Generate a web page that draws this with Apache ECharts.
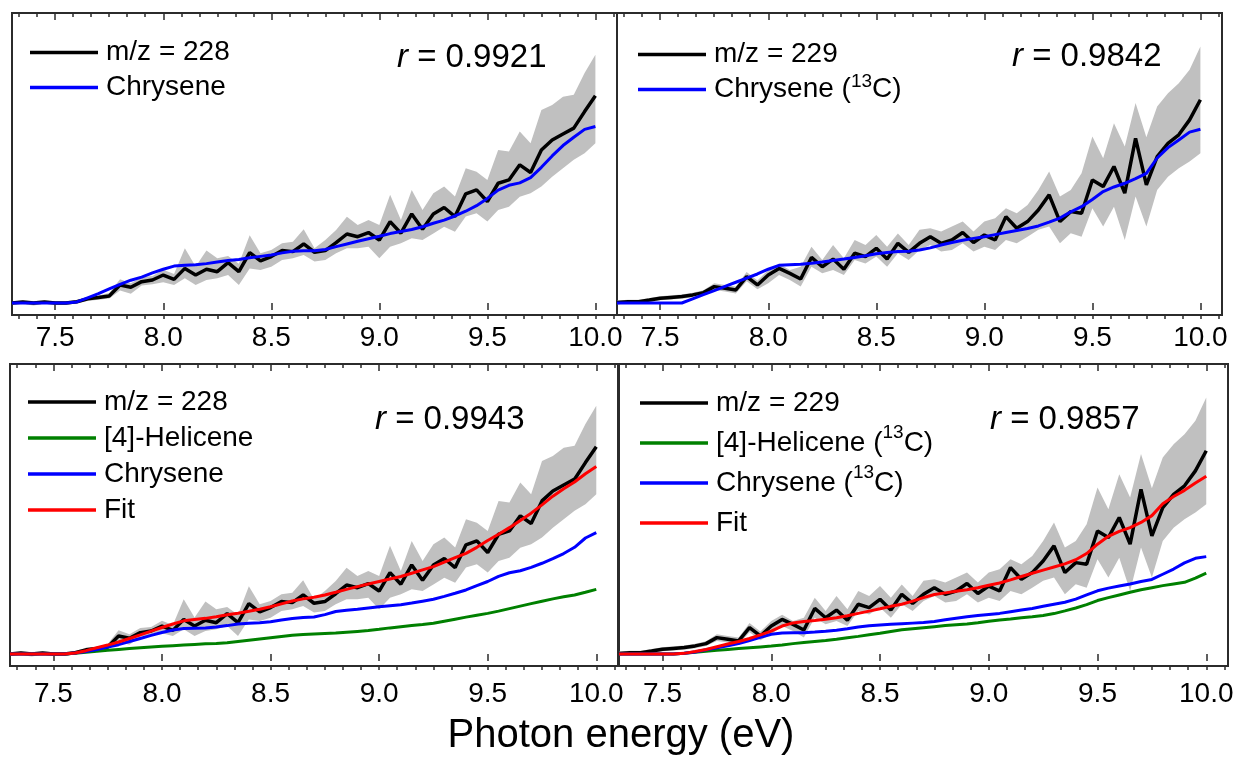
<!DOCTYPE html>
<html>
<head>
<meta charset="utf-8">
<script src="https://cdn.jsdelivr.net/npm/echarts@6/dist/echarts.min.js"></script>
<style>
  html, body { margin: 0; padding: 0; background: #fff; }
  #chart { width: 1242px; height: 761px; }
</style>
</head>
<body>
<div id="chart"></div>
<script>
// ---------------- data (photon energy in eV, normalized ion signal) ----------------
const energy = [7.30,7.35,7.40,7.45,7.50,7.55,7.60,7.65,7.70,7.75,7.80,7.85,7.90,7.95,
  8.00,8.05,8.10,8.15,8.20,8.25,8.30,8.35,8.40,8.45,8.50,8.55,8.60,8.65,8.70,8.75,8.80,8.85,8.90,8.95,
  9.00,9.05,9.10,9.15,9.20,9.25,9.30,9.35,9.40,9.45,9.50,9.55,9.60,9.65,9.70,9.75,9.80,9.85,9.90,9.95,
  10.00];

// m/z = 228 measured signal and its error band
const mz228 = [0.000,0.005,0.000,0.005,0.000,0.000,0.006,0.020,0.026,0.034,0.087,0.076,0.103,0.111,
  0.135,0.114,0.167,0.135,0.163,0.151,0.195,0.151,0.243,0.203,0.224,0.253,0.248,0.285,0.245,0.253,0.291,0.333,0.320,0.340,
  0.304,0.393,0.337,0.430,0.356,0.430,0.461,0.417,0.527,0.546,0.490,0.578,0.594,0.667,0.630,0.739,0.787,0.816,0.844,0.924,
  1.000];
const mz228Upper = [0.008,0.012,0.010,0.012,0.008,0.008,0.014,0.030,0.036,0.048,0.115,0.095,0.125,0.130,
  0.160,0.140,0.264,0.176,0.253,0.216,0.227,0.190,0.327,0.240,0.256,0.288,0.296,0.356,0.264,0.304,0.352,0.416,0.377,0.401,
  0.377,0.522,0.401,0.546,0.449,0.530,0.562,0.514,0.650,0.634,0.594,0.739,0.731,0.828,0.771,0.932,0.956,0.996,1.005,1.110,
  1.198];
const mz228Lower = [-0.008,-0.005,-0.012,-0.004,-0.008,-0.008,-0.002,0.010,0.016,0.022,0.060,0.045,0.085,0.090,
  0.100,0.087,0.119,0.087,0.111,0.119,0.135,0.087,0.167,0.159,0.175,0.208,0.216,0.232,0.200,0.208,0.240,0.264,0.264,0.272,
  0.216,0.272,0.288,0.312,0.304,0.336,0.368,0.344,0.417,0.433,0.393,0.449,0.465,0.513,0.530,0.562,0.610,0.650,0.691,0.723,
  0.771];

// m/z = 229 measured signal and its error band
const mz229 = [0.002,0.006,0.006,0.014,0.023,0.027,0.031,0.039,0.050,0.079,0.071,0.063,0.127,0.087,
  0.135,0.167,0.143,0.116,0.220,0.175,0.212,0.163,0.240,0.224,0.264,0.212,0.288,0.244,0.288,0.320,0.288,0.304,0.340,0.292,
  0.328,0.304,0.417,0.361,0.393,0.449,0.522,0.393,0.441,0.433,0.594,0.562,0.659,0.530,0.795,0.570,0.707,0.771,0.812,0.884,
  0.981];
const mz229Upper = [0.012,0.016,0.016,0.024,0.033,0.037,0.041,0.050,0.062,0.095,0.087,0.080,0.150,0.108,
  0.159,0.190,0.159,0.175,0.272,0.208,0.280,0.216,0.304,0.280,0.328,0.272,0.336,0.280,0.353,0.361,0.345,0.369,0.393,0.345,
  0.393,0.409,0.457,0.433,0.473,0.546,0.635,0.514,0.546,0.626,0.804,0.699,0.868,0.755,0.965,0.800,0.948,1.013,1.061,1.126,
  1.238];
const mz229Lower = [-0.006,-0.004,-0.004,0.004,0.013,0.017,0.021,0.028,0.038,0.063,0.055,0.046,0.105,0.066,
  0.095,0.135,0.111,0.079,0.175,0.143,0.159,0.135,0.208,0.191,0.224,0.175,0.240,0.208,0.256,0.280,0.248,0.256,0.288,0.248,
  0.272,0.256,0.304,0.288,0.320,0.353,0.369,0.288,0.337,0.320,0.457,0.369,0.465,0.304,0.514,0.369,0.546,0.610,0.650,0.683,
  0.723];

// single-component fits (top panels)
const chryseneTop = [0,0,0,0,0,0,0.005,0.025,0.045,0.068,0.090,0.110,0.125,0.145,
  0.163,0.178,0.182,0.185,0.190,0.198,0.205,0.210,0.218,0.225,0.232,0.242,0.250,0.252,0.252,0.258,0.272,0.285,0.298,0.310,
  0.322,0.335,0.345,0.355,0.368,0.385,0.400,0.420,0.443,0.470,0.505,0.545,0.568,0.580,0.605,0.655,0.710,0.760,0.800,0.838,
  0.852];
const chrysene13CTop = [0,0,0,0,0,0,0,0.020,0.040,0.060,0.080,0.100,0.120,0.140,
  0.163,0.182,0.185,0.187,0.192,0.198,0.205,0.212,0.220,0.228,0.238,0.244,0.248,0.250,0.256,0.266,0.280,0.292,0.303,0.312,
  0.320,0.330,0.340,0.350,0.360,0.372,0.390,0.410,0.440,0.465,0.500,0.538,0.560,0.578,0.600,0.626,0.700,0.750,0.787,0.825,
  0.839];

// two-component fits (bottom-left, m/z 228)
const helicene228 = [0,0,0,0,0,0,0.003,0.008,0.013,0.018,0.022,0.026,0.030,0.034,
  0.037,0.040,0.043,0.046,0.049,0.051,0.054,0.060,0.066,0.072,0.078,0.084,0.090,0.094,0.097,0.099,0.101,0.105,0.109,0.113,
  0.119,0.126,0.132,0.137,0.142,0.148,0.158,0.168,0.178,0.187,0.196,0.207,0.219,0.231,0.243,0.255,0.266,0.276,0.285,0.298,
  0.312];
const chrysene228 = [0,0,0,0,0,0,0.005,0.012,0.022,0.033,0.045,0.060,0.075,0.090,
  0.104,0.116,0.123,0.124,0.125,0.130,0.137,0.145,0.148,0.151,0.156,0.164,0.171,0.176,0.179,0.190,0.205,0.211,0.216,0.222,
  0.228,0.233,0.238,0.246,0.255,0.264,0.278,0.293,0.309,0.330,0.350,0.375,0.392,0.402,0.418,0.438,0.460,0.485,0.515,0.560,
  0.586];
const fit228 = [0,0,0,0,0,0,0.005,0.016,0.030,0.043,0.058,0.075,0.092,0.110,
  0.128,0.145,0.160,0.166,0.172,0.180,0.189,0.197,0.206,0.216,0.228,0.242,0.256,0.266,0.274,0.285,0.298,0.312,0.325,0.338,
  0.350,0.362,0.374,0.390,0.406,0.422,0.443,0.465,0.486,0.515,0.548,0.578,0.610,0.645,0.680,0.720,0.762,0.798,0.830,0.870,
  0.905];

// two-component fits (bottom-right, m/z 229)
const helicene229 = [0,0,0,0,0,0,0.003,0.008,0.013,0.018,0.022,0.026,0.030,0.034,
  0.038,0.043,0.050,0.055,0.060,0.065,0.071,0.078,0.085,0.093,0.100,0.109,0.117,0.122,0.127,0.132,0.137,0.141,0.145,0.151,
  0.158,0.164,0.169,0.175,0.180,0.186,0.195,0.208,0.222,0.238,0.258,0.272,0.285,0.298,0.310,0.320,0.330,0.338,0.346,0.366,
  0.390];
const chrysene229 = [0,0,0,0,0,0,0.004,0.010,0.020,0.030,0.040,0.050,0.065,0.080,
  0.095,0.101,0.102,0.103,0.106,0.110,0.115,0.122,0.130,0.136,0.140,0.143,0.146,0.149,0.152,0.157,0.165,0.173,0.180,0.186,
  0.191,0.196,0.204,0.212,0.220,0.230,0.240,0.250,0.265,0.285,0.305,0.318,0.328,0.338,0.350,0.360,0.385,0.410,0.440,0.462,
  0.470];
const fit229 = [0,0,0,0,0,0,0.003,0.012,0.022,0.035,0.048,0.060,0.075,0.092,
  0.110,0.135,0.150,0.157,0.162,0.168,0.175,0.185,0.196,0.207,0.218,0.230,0.240,0.255,0.272,0.287,0.295,0.303,0.310,0.320,
  0.332,0.343,0.358,0.374,0.390,0.405,0.420,0.435,0.455,0.485,0.530,0.568,0.592,0.610,0.635,0.668,0.725,0.760,0.790,0.825,
  0.858];

// axis tick labels
const xTickLabels = [7.5, 8.0, 8.5, 9.0, 9.5, 10.0];
const xRange = [7.3, 10.1];
const yRange = [-0.058, 1.40];
const rValues = ['0.9921', '0.9842', '0.9943', '0.9857'];
const xTitle = 'Photon energy (eV)';

// ---------------- chart ----------------
const FONT = "'Liberation Sans', Arial, Helvetica, sans-serif";
const AXIS_COLOR = '#2b2b2b';
const BAND_COLOR = '#c0c0c0';
const C = { black: '#000000', blue: '#0000ff', green: '#008000', red: '#ff0000' };
const SUP = '\u00B9\u00B3';

const minorTicks = [];
for (let v = xTickLabels[0] - 2 / 12; v <= xRange[1] + 1e-9; v += 1 / 12) minorTicks.push(+v.toFixed(5));

const pairs = arr => energy.map((e, i) => [e, arr[i]]);

const grids = [
  { left: 12,  top: 13,  width: 605, height: 302 },
  { left: 617, top: 13,  width: 605, height: 302 },
  { left: 10,  top: 364, width: 608, height: 302 },
  { left: 619, top: 364, width: 609, height: 302 }
].map(g => Object.assign(g, { show: true, borderColor: AXIS_COLOR, borderWidth: 2, backgroundColor: 'transparent' }));
const labelMargins = [9, 9, 14, 14];

const xAxes = [], yAxes = [];
grids.forEach((g, gi) => {
  const base = { gridIndex: gi, type: 'value', min: xRange[0], max: xRange[1],
    axisLine: { show: false }, splitLine: { show: false } };
  xAxes.push(Object.assign({}, base, { position: 'bottom',
    axisTick: { show: true, customValues: xTickLabels, length: 7, lineStyle: { color: AXIS_COLOR, width: 1.5 } },
    axisLabel: { show: true, customValues: xTickLabels, margin: labelMargins[gi], fontSize: 28, color: '#000', fontFamily: FONT,
      formatter: v => v.toFixed(1) } }));
  xAxes.push(Object.assign({}, base, { position: 'bottom',
    axisTick: { show: true, customValues: minorTicks, length: 4, lineStyle: { color: AXIS_COLOR, width: 1.5 } },
    axisLabel: { show: false } }));
  xAxes.push(Object.assign({}, base, { position: 'top',
    axisTick: { show: true, inside: true, customValues: xTickLabels, length: 7, lineStyle: { color: AXIS_COLOR, width: 1.5 } },
    axisLabel: { show: false } }));
  xAxes.push(Object.assign({}, base, { position: 'top',
    axisTick: { show: true, inside: true, customValues: minorTicks, length: 4, lineStyle: { color: AXIS_COLOR, width: 1.5 } },
    axisLabel: { show: false } }));
  yAxes.push({ gridIndex: gi, type: 'value', min: yRange[0], max: yRange[1], show: false,
    splitLine: { show: false } });
});

const series = [];
// error band: one filled polygon built from the upper and lower bounds via the axis scales
function band(gi, name, upper, lower) {
  series.push({ name, type: 'custom', xAxisIndex: gi * 4, yAxisIndex: gi, silent: true, z: 1,
    data: energy.map((e, i) => [e, lower[i], upper[i]]),
    encode: { x: 0, y: [1, 2] },
    renderItem: (params, api) => {
      if (params.dataIndex !== 0) return null;
      const pts = [];
      for (let i = 0; i < energy.length; i++) pts.push(api.coord([energy[i], upper[i]]));
      for (let i = energy.length - 1; i >= 0; i--) pts.push(api.coord([energy[i], lower[i]]));
      return { type: 'polygon', shape: { points: pts }, style: { fill: BAND_COLOR, stroke: null } };
    } });
}
function line(gi, name, arr, color, width, z) {
  series.push({ name, type: 'line', xAxisIndex: gi * 4, yAxisIndex: gi, data: pairs(arr),
    symbol: 'none', color, lineStyle: { color, width }, z });
}

band(0, 'm/z = 228 error', mz228Upper, mz228Lower);
line(0, 'm/z = 228', mz228, C.black, 3.5, 3);
line(0, 'Chrysene', chryseneTop, C.blue, 3, 4);

band(1, 'm/z = 229 error', mz229Upper, mz229Lower);
line(1, 'm/z = 229', mz229, C.black, 3.5, 3);
line(1, 'Chrysene (' + SUP + 'C)', chrysene13CTop, C.blue, 3, 4);

band(2, 'm/z = 228 error ', mz228Upper, mz228Lower);
line(2, 'm/z = 228', mz228, C.black, 3.5, 3);
line(2, '[4]-Helicene', helicene228, C.green, 3, 4);
line(2, 'Chrysene', chrysene228, C.blue, 3, 4);
line(2, 'Fit', fit228, C.red, 3, 5);

band(3, 'm/z = 229 error ', mz229Upper, mz229Lower);
line(3, 'm/z = 229', mz229, C.black, 3.5, 3);
line(3, '[4]-Helicene (' + SUP + 'C)', helicene229, C.green, 3, 4);
line(3, 'Chrysene (' + SUP + 'C)', chrysene229, C.blue, 3, 4);
line(3, 'Fit', fit229, C.red, 3, 5);

function legend(left, top, rowH, names) {
  return { orient: 'vertical', left, top, itemWidth: 68, itemHeight: 3.5, itemGap: 0, icon: 'rect',
    selectedMode: false, padding: 0,
    formatter: name => name.replace(SUP, '{sup|13}'),
    textStyle: { fontSize: 28, fontFamily: FONT, color: '#000', lineHeight: rowH, padding: [0, 0, 0, 3],
      rich: { sup: { fontSize: 19, fontFamily: FONT, color: '#000', lineHeight: rowH - 13, verticalAlign: 'top' } } },
    data: names };
}
const legends = [
  legend(30, 35, 35, ['m/z = 228', 'Chrysene']),
  legend(638, 37, 35, ['m/z = 229', 'Chrysene (' + SUP + 'C)']),
  legend(28, 384, 36, ['m/z = 228', '[4]-Helicene', 'Chrysene', 'Fit']),
  legend(640, 383, 40, ['m/z = 229', '[4]-Helicene (' + SUP + 'C)', 'Chrysene (' + SUP + 'C)', 'Fit'])
];

function rTitle(val, left, top) {
  return { text: '{i|r} = ' + val, left, top, padding: 0,
    textStyle: { fontSize: 33, fontWeight: 'normal', fontFamily: FONT, color: '#000',
      rich: { i: { fontStyle: 'italic', fontSize: 33, fontFamily: FONT, color: '#000' } } } };
}
const titles = [
  rTitle(rValues[0], 397, 41),
  rTitle(rValues[1], 1012, 40),
  rTitle(rValues[2], 375, 403),
  rTitle(rValues[3], 990, 403),
  { text: xTitle, left: 'center', top: 716, padding: 0,
    textStyle: { fontSize: 40, fontWeight: 'normal', fontFamily: FONT, color: '#000' } }
];

const chart = echarts.init(document.getElementById('chart'), null, { renderer: 'canvas' });
chart.setOption({
  animation: false,
  backgroundColor: '#ffffff',
  title: titles,
  legend: legends,
  grid: grids,
  xAxis: xAxes,
  yAxis: yAxes,
  series
});
</script>
</body>
</html>
